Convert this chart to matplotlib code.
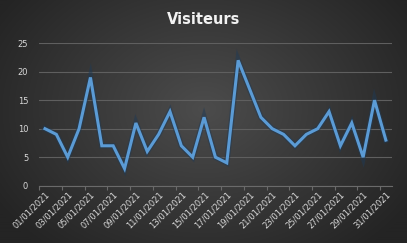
import numpy as np
import matplotlib
matplotlib.use("Agg")
import matplotlib.pyplot as plt

dates = [f"{d:02d}/01/2021" for d in range(1, 32)]
visiteurs = [10, 9, 5, 10, 19, 7, 7, 3, 11, 6, 9, 13, 7, 5, 12, 5, 4, 22, 17, 12,
             10, 9, 7, 9, 10, 13, 7, 11, 5, 15, 8]
yticks = [0, 5, 10, 15, 20, 25]

W, H = 407, 243
fig = plt.figure(figsize=(W / 100, H / 100), dpi=100)

# radial gradient background
bg = fig.add_axes([0, 0, 1, 1], zorder=-10)
yy, xx = np.mgrid[0:H, 0:W]
r = np.sqrt(((xx - W * 0.5) / (W * 0.6)) ** 2 + ((yy - H * 0.45) / (H * 0.75)) ** 2)
r = np.clip(r, 0, 1)
inner = np.array([0x4c, 0x4c, 0x4c]) / 255
outer = np.array([0x24, 0x24, 0x24]) / 255
img = inner[None, None, :] * (1 - r[..., None]) + outer[None, None, :] * r[..., None]
bg.imshow(img, aspect="auto", extent=[0, 1, 0, 1])
bg.axis("off")

ax = fig.add_axes([0.0966, 0.236, 0.962 - 0.0966, 0.822 - 0.236])
ax.set_facecolor("none")
x = np.arange(len(visiteurs))
ax.plot(x, visiteurs, color="#1f3a55", lw=4.0, alpha=0.5, solid_joinstyle="miter", zorder=2)
ax.plot(x, visiteurs, color="#5b9bd5", lw=2.2, solid_joinstyle="miter", zorder=3)

ax.set_xlim(-0.5, len(visiteurs) - 0.5)
ax.set_ylim(0, 25)
ax.set_yticks(yticks)
ax.grid(axis="y", color="#5f5f5f", lw=0.8)
ax.set_axisbelow(True)
for s in ["top", "right", "left"]:
    ax.spines[s].set_visible(False)
ax.spines["bottom"].set_color("#6a6a6a")
ax.spines["bottom"].set_linewidth(0.8)
ax.tick_params(axis="y", length=0, colors="#d9d9d9", labelsize=6, pad=8)
ax.set_xticks(x[::2])
ax.set_xticklabels(dates[::2], rotation=45, ha="right", rotation_mode="anchor")
ax.set_xticks(np.arange(-0.5, len(visiteurs), 2), minor=True)
ax.tick_params(axis="x", which="major", length=0, colors="#d9d9d9", labelsize=6, pad=3)
ax.tick_params(axis="x", which="minor", length=3, color="#6a6a6a", width=0.8)

fig.text(0.5, 0.918, "Visiteurs", ha="center", va="center", color="#f2f2f2",
         fontsize=10.5, fontweight="bold")

fig.savefig("out.png", dpi=100)
